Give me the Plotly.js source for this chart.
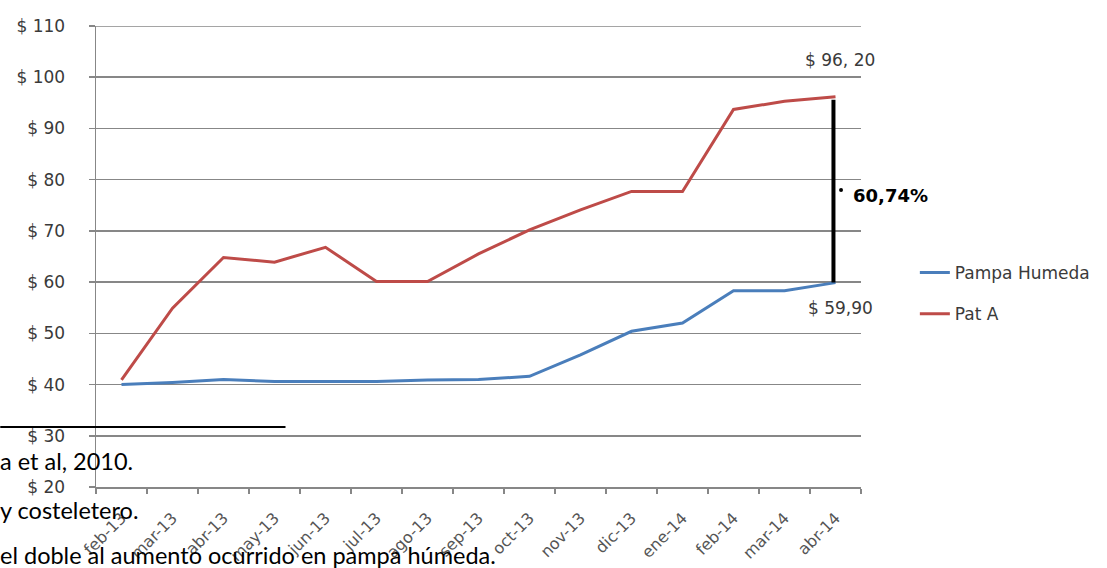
<!DOCTYPE html>
<html>
<head>
<meta charset="utf-8">
<script src="https://cdn.plot.ly/plotly-3.0.1.min.js"></script>
<style>html,body{margin:0;padding:0;background:#fff;}#chart{width:1107px;height:568px;}</style>
</head>
<body>
<div id="chart"></div>
<script>
const months = ['feb-13','mar-13','abr-13','may-13','jun-13','jul-13','ago-13','sep-13','oct-13','nov-13','dic-13','ene-14','feb-14','mar-14','abr-14'];
const pampaHumeda = [40.0, 40.4, 41.0, 40.6, 40.6, 40.6, 40.9, 41.0, 41.6, 45.8, 50.4, 52.0, 58.3, 58.3, 59.9];
const patA = [40.9, 54.9, 64.8, 63.9, 66.8, 60.1, 60.1, 65.5, 70.2, 74.1, 77.7, 77.7, 93.7, 95.3, 96.2];
const seriesNames = ['Pampa Humeda', 'Pat A'];
const labelTop = '$ 96, 20';
const labelBottom = '$ 59,90';
const labelDiff = '60,74%';
const docLines = ['a et al, 2010.', 'y costeletero.', 'el doble al aumento ocurrido en pampa húmeda.'];

const last = months.length - 1;
const W = 1107, H = 568, L = 96, R = 244, T = 26, B = 81;
const pw = W - L - R, ph = H - T - B;
const px = v => (v - L) / pw;
const py = v => (H - B - v) / ph;

const tickFont = {family: 'DejaVu Sans', size: 17, color: '#3a3a3a'};
const xTickFont = {family: 'DejaVu Sans', size: 16, color: '#555555'};
const gridCol = '#878787';

const data = [
  {x: months, y: pampaHumeda, name: seriesNames[0], type: 'scatter', mode: 'lines',
   line: {color: '#4A7EBB', width: 3}, legendgroup: 'a'},
  {x: months, y: patA, name: seriesNames[1], type: 'scatter', mode: 'lines',
   line: {color: '#BE4B48', width: 3}, legendgroup: 'b'}
];

const layout = {
  width: W, height: H,
  margin: {l: L, r: R, t: T, b: B, pad: 0},
  paper_bgcolor: '#fff', plot_bgcolor: '#fff',
  font: tickFont,
  showlegend: true,
  legend: {x: px(917), y: py(255), xanchor: 'left', yanchor: 'top',
           traceorder: 'grouped', tracegroupgap: 16,
           font: tickFont, itemwidth: 30,
           bgcolor: 'rgba(0,0,0,0)'},
  xaxis: {type: 'category', range: [-0.5, last + 0.5], tickson: 'boundaries',
          ticks: 'outside', ticklen: 5, tickcolor: gridCol, tickwidth: 1.5,
          showline: true, linecolor: gridCol, linewidth: 1.5,
          showgrid: false, tickangle: -45, tickfont: xTickFont, zeroline: false,
          ticklabelstandoff: 14},
  yaxis: {range: [20, 110], dtick: 10, tick0: 20, tickprefix: '$ ',
          ticks: 'outside', ticklen: 6, tickcolor: gridCol, tickwidth: 1.5,
          showline: true, linecolor: gridCol, linewidth: 1.5,
          showgrid: true, gridcolor: gridCol, gridwidth: 1.5,
          tickfont: tickFont, zeroline: false, ticklabelstandoff: 20},
  shapes: [
    {type: 'line', xref: 'paper', yref: 'y', x0: 0, x1: 1, y0: 110, y1: 110,
     line: {color: gridCol, width: 1.5}},
    {type: 'line', xref: 'x', yref: 'y', x0: last - 0.04, x1: last - 0.04,
     y0: pampaHumeda[last], y1: patA[last] - 0.6,
     line: {color: '#000', width: 4}},
    {type: 'circle', xref: 'paper', yref: 'paper', x0: px(841), x1: px(845), y0: py(192), y1: py(188),
     fillcolor: '#000', line: {width: 0}},
    {type: 'line', xref: 'paper', yref: 'paper', x0: px(0), x1: px(286), y0: py(427), y1: py(427),
     line: {color: '#000', width: 2}}
  ],
  annotations: [
    {xref: 'x', yref: 'paper', x: last, xshift: 4, y: py(60), text: labelTop, showarrow: false,
     xanchor: 'center', yanchor: 'middle', font: tickFont},
    {xref: 'x', yref: 'paper', x: last, xshift: 5, y: py(308), text: labelBottom, showarrow: false,
     xanchor: 'center', yanchor: 'middle', font: tickFont},
    {xref: 'paper', yref: 'paper', x: px(853), y: py(195), text: '<b>' + labelDiff + '</b>', showarrow: false,
     xanchor: 'left', yanchor: 'middle', font: {family: 'DejaVu Sans', size: 18, color: '#000'}},
    {xref: 'paper', yref: 'paper', x: px(-2), y: py(461), text: docLines[0], showarrow: false,
     xanchor: 'left', yanchor: 'middle', font: {family: 'Lato', size: 23.5, color: '#000'}},
    {xref: 'paper', yref: 'paper', x: px(-2), y: py(510), text: docLines[1], showarrow: false,
     xanchor: 'left', yanchor: 'middle', font: {family: 'Lato', size: 23.5, color: '#000'}},
    {xref: 'paper', yref: 'paper', x: px(-2), y: py(555), text: docLines[2], showarrow: false,
     xanchor: 'left', yanchor: 'middle', font: {family: 'Lato', size: 23.5, color: '#000'}}
  ]
};

Plotly.newPlot('chart', data, layout, {displayModeBar: false, staticPlot: true});
</script>
</body>
</html>
